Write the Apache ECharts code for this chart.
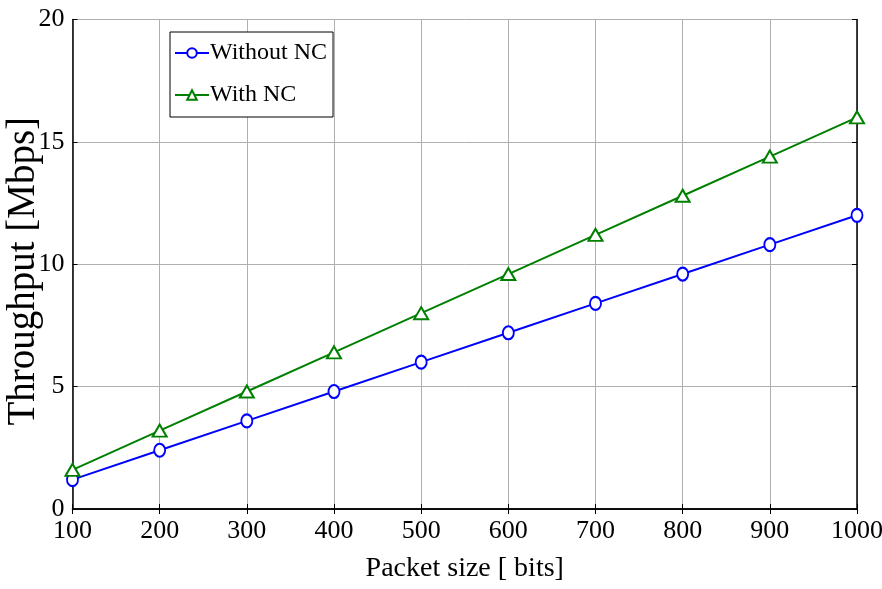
<!DOCTYPE html>
<html>
<head>
<meta charset="utf-8">
<script src="https://cdn.jsdelivr.net/npm/echarts@6/dist/echarts.min.js"></script>
<style>
  html, body { margin: 0; padding: 0; background: #fff; }
  #chart { width: 882px; height: 589px; }
</style>
</head>
<body>
<div id="chart"></div>
<script>
// packet sizes in bits
const packetSizes = [100, 200, 300, 400, 500, 600, 700, 800, 900, 1000]
// throughput in Mbps
const withoutNC = [1.2, 2.4, 3.6, 4.8, 6.0, 7.2, 8.4, 9.6, 10.8, 12.0]
const withNC = [1.6, 3.2, 4.8, 6.4, 8.0, 9.6, 11.2, 12.8, 14.4, 16.0]
const yTicks = [0, 5, 10, 15, 20]

const font = "Liberation Serif"

const hiddenAxis = {
  axisLine: { show: true, lineStyle: { color: "#000", width: 1.5 } },
  axisTick: { show: true, inside: true, length: 5, lineStyle: { color: "#000" } },
  axisLabel: { show: false },
  splitLine: { show: false }
}

const option = {
  animation: false,
  backgroundColor: "#fff",
  grid: { left: 72.5, right: 25, top: 19.5, bottom: 80, outerBoundsMode: "none", containLabel: false },
  legend: {
    orient: "vertical",
    left: 170,
    top: 32,
    padding: [9, 6, 10, 4],
    itemGap: 18,
    itemWidth: 34,
    itemHeight: 12,
    borderColor: "#000",
    borderWidth: 1,
    backgroundColor: "#fff",
    textStyle: { fontFamily: font, fontSize: 24, color: "#000", padding: [0, 0, 0, -4] },
    data: ["Without NC", "With NC"]
  },
  xAxis: [
    {
      type: "value",
      min: packetSizes[0],
      max: packetSizes[packetSizes.length - 1],
      interval: 100,
      name: "Packet size [ bits]",
      nameLocation: "middle",
      nameGap: 46,
      nameMoveOverlap: false,
      nameTextStyle: { fontFamily: font, fontSize: 28, color: "#000" },
      axisLine: { lineStyle: { color: "#000", width: 1.5 } },
      axisTick: { inside: true, length: 5, lineStyle: { color: "#000" } },
      axisLabel: { fontFamily: font, fontSize: 26, color: "#000", margin: 9, formatter: v => String(v) },
      splitLine: { show: true, lineStyle: { color: "#b0b0b0", width: 1 } }
    },
    Object.assign({ type: "value", position: "top", min: 100, max: 1000, interval: 100 }, hiddenAxis)
  ],
  yAxis: [
    {
      type: "value",
      min: yTicks[0],
      max: yTicks[yTicks.length - 1],
      interval: 5,
      name: "Throughput [Mbps]",
      nameLocation: "middle",
      nameRotate: 90,
      nameGap: 29,
      nameMoveOverlap: false,
      nameTextStyle: { fontFamily: font, fontSize: 39, color: "#000", padding: [0, 14, 0, 0] },
      axisLine: { show: true, lineStyle: { color: "#000", width: 1.5 } },
      axisTick: { show: true, inside: true, length: 5, lineStyle: { color: "#000" } },
      axisLabel: { fontFamily: font, fontSize: 26, color: "#000", margin: 8 },
      splitLine: { show: true, lineStyle: { color: "#b0b0b0", width: 1 } }
    },
    Object.assign({ type: "value", position: "right", min: 0, max: 20, interval: 5 }, hiddenAxis)
  ],
  series: [
    {
      name: "Without NC",
      type: "line",
      data: packetSizes.map((x, i) => [x, withoutNC[i]]),
      symbol: "emptyCircle",
      symbolSize: [11, 13],
      color: "#0000ff",
      lineStyle: { width: 2, color: "#0000ff" },
      itemStyle: { color: "#0000ff", borderWidth: 1.8 }
    },
    {
      name: "With NC",
      type: "line",
      data: packetSizes.map((x, i) => [x, withNC[i]]),
      symbol: "emptyTriangle",
      symbolSize: [14, 12],
      color: "#008000",
      lineStyle: { width: 2, color: "#008000" },
      itemStyle: { color: "#008000", borderWidth: 1.8 }
    }
  ]
}

const chart = echarts.init(document.getElementById("chart"))
chart.setOption(option)
</script>
</body>
</html>
